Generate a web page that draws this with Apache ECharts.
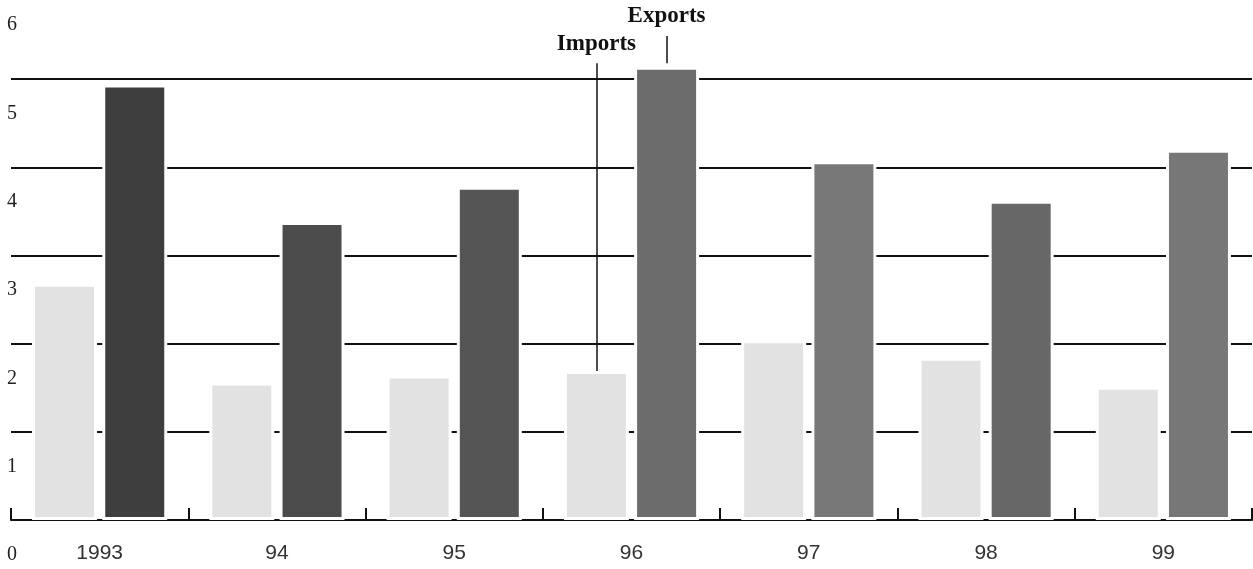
<!DOCTYPE html>
<html><head><meta charset="utf-8">
<script src="https://cdn.jsdelivr.net/npm/echarts@6/dist/echarts.min.js"></script>
<style>html,body{margin:0;padding:0;background:#fff;overflow:hidden}#c{position:absolute;left:0;top:-10px;width:1253px;height:579px}</style>
</head><body><div id="c"></div>
<script>
const years = ['1993', '94', '95', '96', '97', '98', '99'];
const importsVals = [2.68, 1.56, 1.64, 1.69, 2.04, 1.84, 1.51];
const exportsVals = [4.94, 3.38, 3.78, 5.14, 4.07, 3.62, 4.20];
const yTickLabels = ['0', '1', '2', '3', '4', '5', '6'];
const calloutYear = '96';
const importsCalloutTop = 5.18;
const exportsCalloutTop = 5.49;

const exportShades = ['#3e3e3e', '#4c4c4c', '#555555', '#6c6c6c', '#787878', '#676767', '#777777'];
const importShade = '#e2e2e2';

const chart = echarts.init(document.getElementById('c'), null, {renderer: 'canvas'});
const calloutLabel = {
  show: true, position: 'end', color: '#111', distance: 8,
  fontFamily: 'Liberation Serif', fontWeight: 'bold', fontSize: 23
};
const ci = years.indexOf(calloutYear);
chart.setOption({
  animation: false,
  backgroundColor: '#fff',
  grid: [
    {left: 11, right: 1, top: 1, bottom: 49, containLabel: false},
    {left: 11, right: 1, top: 35, bottom: 14, containLabel: false}
  ],
  xAxis: [
    {
      type: 'category', data: years, boundaryGap: true, gridIndex: 0,
      axisLine: {show: true, lineStyle: {color: '#111', width: 2}},
      axisTick: {show: true, inside: true, length: 12, lineStyle: {color: '#111', width: 2}},
      axisLabel: {color: '#333', fontFamily: 'Liberation Sans', fontSize: 21, margin: 23},
      splitLine: {show: false}
    },
    {
      type: 'category', data: years, gridIndex: 1, show: false
    }
  ],
  yAxis: [
    {
      type: 'value', min: 0, max: 6, interval: 1, gridIndex: 0,
      axisLine: {show: false}, axisTick: {show: false}, axisLabel: {show: false},
      splitLine: {show: true, lineStyle: {color: '#111', width: 2}}
    },
    {
      type: 'value', min: 0, max: 6, interval: 1, gridIndex: 1,
      axisLine: {show: false}, axisTick: {show: false}, splitLine: {show: false},
      axisLabel: {
        color: '#222', fontFamily: 'Liberation Serif', fontSize: 20,
        align: 'center', margin: -1,
        formatter: v => yTickLabels[Math.round(v)]
      }
    }
  ],
  series: [
    {
      name: 'Imports', type: 'bar', data: importsVals, xAxisIndex: 0, yAxisIndex: 0,
      barWidth: 65, barGap: '8%',
      itemStyle: {color: importShade, borderColor: '#fff', borderWidth: 3},
      markLine: {
        silent: true, symbol: 'none',
        lineStyle: {color: '#111', width: 1.5, type: 'solid'},
        label: {show: false},
        data: [[
          {coord: [calloutYear, importsVals[ci]]},
          {coord: [calloutYear, importsCalloutTop], label: Object.assign({}, calloutLabel, {formatter: 'Imports'})}
        ]]
      }
    },
    {
      name: 'Exports', type: 'bar', data: exportsVals, xAxisIndex: 0, yAxisIndex: 0,
      barWidth: 65,
      itemStyle: {color: p => exportShades[p.dataIndex], borderColor: '#fff', borderWidth: 3},
      markLine: {
        silent: true, symbol: 'none',
        lineStyle: {color: '#111', width: 1.5, type: 'solid'},
        label: {show: false},
        data: [[
          {coord: [calloutYear, exportsVals[ci] + 0.04]},
          {coord: [calloutYear, exportsCalloutTop], label: Object.assign({}, calloutLabel, {formatter: 'Exports'})}
        ]]
      }
    }
  ]
});
</script></body></html>
